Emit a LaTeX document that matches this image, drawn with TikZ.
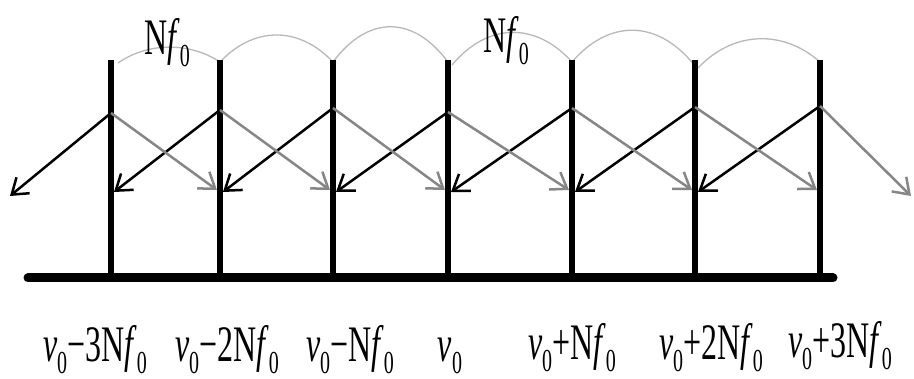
\documentclass[tikz,border=0pt]{standalone}
\usepackage{fontspec}
\setmainfont{Liberation Serif}
\usepackage{graphicx}
\usetikzlibrary{arrows.meta}
\newcommand{\sbz}{\raisebox{-0.22em}{\fontsize{20}{20}\selectfont 0}}
\newcommand{\nuz}{\textit{ν}\sbz}
\newcommand{\Nfz}{N\textit{f}\sbz}
\newcommand{\tall}[1]{\scalebox{1}[1.6]{#1}}
\begin{document}
\begin{tikzpicture}[x=1pt,y=-1pt,
  lab/.style={inner sep=0pt, anchor=base, font=\fontsize{32}{32}\selectfont},
  tooth/.style={line width=5.5pt},
  axisline/.style={line width=9pt, line cap=round},
  barr/.style={line width=2.5pt, -{Straight Barb[angle=70:18pt]}},
  garr/.style={barr, draw=gray!95},
  arcline/.style={line width=1.3pt, draw=black!28}]
\useasboundingbox (0,0) rectangle (914,379);
% tops, bases, arrow origins
\foreach \i/\x/\s in {1/111/113, 2/220/110, 3/333/108, 4/448/112, 5/572/108, 6/695/107, 7/820/106}{
  \coordinate (top\i) at (\x,60);
  \coordinate (bot\i) at (\x,278);
  \coordinate (s\i) at (\x,\s);
  \coordinate (gl\i) at (\x-3,190);
  \coordinate (bl\i) at (\x+3,192);
}
\coordinate (axL) at (28,278);
\coordinate (axR) at (833,278);
\coordinate (bend) at (10,196);
\coordinate (gend) at (911,196);
% grey arcs
\draw[arcline] (118,63) .. controls (148,42) and (190,42) .. (220,62);
\draw[arcline] (220,62) .. controls (254,26) and (299,26) .. (333,62);
\draw[arcline] (333,62) .. controls (368,15) and (413,15) .. (448,62);
\draw[arcline] (452,65) .. controls (488,22) and (536,22) .. (572,62);
\draw[arcline] (572,62) .. controls (609,19) and (658,19) .. (695,66);
\draw[arcline] (698,68) .. controls (734,30) and (784,30) .. (820,62);
% vertical lines and axis
\foreach \i in {1,...,7}{ \draw[tooth] (top\i) -- (bot\i); }
\draw[axisline] (axL) -- (axR);
% arrows
\draw[barr] (s1) -- (bend);
\draw[barr] (s2) -- (bl1);
\draw[barr] (s3) -- (bl2);
\draw[barr] (s4) -- (bl3);
\draw[barr] (s5) -- (bl4);
\draw[barr] (s6) -- (bl5);
\draw[barr] (s7) -- (bl6);
\draw[garr] (s1) -- (gl2);
\draw[garr] (s2) -- (gl3);
\draw[garr] (s3) -- (gl4);
\draw[garr] (s4) -- (gl5);
\draw[garr] (s5) -- (gl6);
\draw[garr] (s6) -- (gl7);
\draw[garr] (s7) -- (gend);
% labels
\node[lab] (t1) at (167,55) {\tall{\Nfz}};
\node[lab] (t2) at (506,53) {\tall{\Nfz}};
\node[lab] (l1) at (95,362) {\tall{\nuz−3N\textit{f}\sbz}};
\node[lab] (l2) at (227,362) {\tall{\nuz−2N\textit{f}\sbz}};
\node[lab] (l3) at (350,362) {\tall{\nuz−N\textit{f}\sbz}};
\node[lab] (l4) at (450,362) {\tall{\nuz}};
\node[lab] (l5) at (572,360) {\tall{\nuz+N\textit{f}\sbz}};
\node[lab] (l6) at (711,360) {\tall{\nuz+2N\textit{f}\sbz}};
\node[lab] (l7) at (840,358) {\tall{\nuz+3N\textit{f}\sbz}};
\end{tikzpicture}
\end{document}
